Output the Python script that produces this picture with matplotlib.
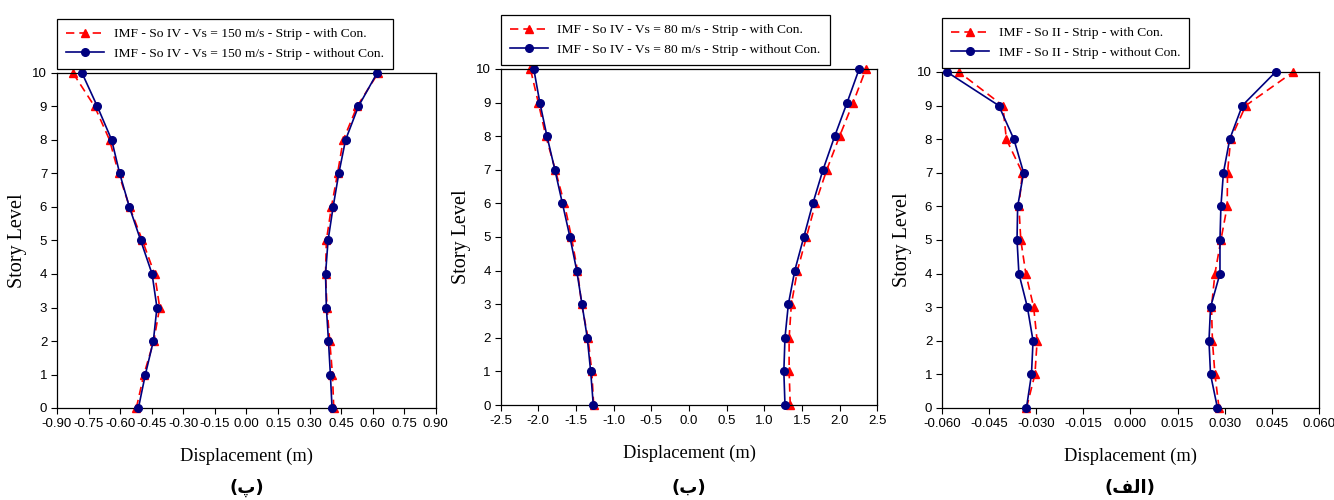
import matplotlib.pyplot as plt
from matplotlib.ticker import FormatStrFormatter

plt.rcParams['axes.unicode_minus'] = False

# story levels 0..10
levels = list(range(11))

# ---------- panel (پ): So IV, Vs = 150 m/s ----------
p1_labels = ["IMF - So IV - Vs = 150 m/s - Strip - with Con.",
             "IMF - So IV - Vs = 150 m/s - Strip - without Con."]
p1_with_left = [-0.523, -0.487, -0.440, -0.412, -0.436, -0.494, -0.555, -0.607, -0.650, -0.721, -0.824]
p1_with_right = [0.415, 0.409, 0.396, 0.383, 0.376, 0.380, 0.404, 0.433, 0.460, 0.526, 0.626]
p1_wo_left = [-0.513, -0.480, -0.442, -0.425, -0.448, -0.502, -0.556, -0.602, -0.640, -0.708, -0.781]
p1_wo_right = [0.407, 0.399, 0.390, 0.380, 0.376, 0.388, 0.412, 0.439, 0.471, 0.532, 0.621]
p1_ticks = [-0.90, -0.75, -0.60, -0.45, -0.30, -0.15, 0.00, 0.15, 0.30, 0.45, 0.60, 0.75, 0.90]

# ---------- panel (ب): So IV, Vs = 80 m/s ----------
p2_labels = ["IMF - So IV - Vs = 80 m/s - Strip - with Con.",
             "IMF - So IV - Vs = 80 m/s - Strip - without Con."]
p2_with_left = [-1.265, -1.29, -1.34, -1.425, -1.48, -1.56, -1.655, -1.775, -1.90, -2.00, -2.105]
p2_with_right = [1.345, 1.33, 1.33, 1.36, 1.44, 1.56, 1.68, 1.83, 2.00, 2.18, 2.35]
p2_wo_left = [-1.27, -1.305, -1.35, -1.42, -1.49, -1.58, -1.68, -1.78, -1.885, -1.98, -2.06]
p2_wo_right = [1.275, 1.26, 1.275, 1.32, 1.405, 1.525, 1.645, 1.78, 1.935, 2.10, 2.26]
p2_ticks = [-2.5, -2.0, -1.5, -1.0, -0.5, 0.0, 0.5, 1.0, 1.5, 2.0, 2.5]

# ---------- panel (الف): So II ----------
p3_labels = ["IMF - So II - Strip - with Con.",
             "IMF - So II - Strip - without Con."]
p3_with_left = [-0.0331, -0.0304, -0.0297, -0.0308, -0.0333, -0.0349, -0.0355, -0.0344, -0.0395, -0.0406, -0.0546]
p3_with_right = [0.0282, 0.0269, 0.0261, 0.0258, 0.0269, 0.0288, 0.0308, 0.0309, 0.0319, 0.0367, 0.0518]
p3_wo_left = [-0.0331, -0.0315, -0.0310, -0.0328, -0.0355, -0.0361, -0.0359, -0.0340, -0.0371, -0.0419, -0.0584]
p3_wo_right = [0.0277, 0.0255, 0.0250, 0.0255, 0.0285, 0.0285, 0.0288, 0.0296, 0.0316, 0.0356, 0.0462]
p3_ticks = [-0.060, -0.045, -0.030, -0.015, 0.000, 0.015, 0.030, 0.045, 0.060]

# panel captions (Arabic presentation forms so the letters join left-to-right)
captions = ["(\u067e)", "(\u0628)", "(\ufed2\ufedf\ufe8d)"]

panels = [
    (p1_labels, p1_with_left, p1_with_right, p1_wo_left, p1_wo_right, p1_ticks, '%.2f'),
    (p2_labels, p2_with_left, p2_with_right, p2_wo_left, p2_wo_right, p2_ticks, '%.1f'),
    (p3_labels, p3_with_left, p3_with_right, p3_wo_left, p3_wo_right, p3_ticks, '%.3f'),
]

# axes boxes in figure fractions [left, bottom, width, height]
boxes = [
    [0.0427, 0.184, 0.284, 0.670],
    [0.3753, 0.190, 0.2823, 0.672],
    [0.7061, 0.184, 0.2826, 0.672],
]

serif = 'Liberation Serif'
sans = 'Liberation Sans'

fig = plt.figure(figsize=(13.34, 5), dpi=100)

for i, (labels, wl, wr, ol, orr, ticks, fmt) in enumerate(panels):
    ax = fig.add_axes(boxes[i])
    red_kw = dict(color='red', linestyle='--', dashes=(5, 3), linewidth=1.2,
                  marker='^', markersize=6, zorder=2, clip_on=False)
    blue_kw = dict(color='#00007f', linestyle='-', linewidth=1.2,
                   marker='o', markersize=5.5, zorder=3, clip_on=False)
    h1, = ax.plot(wl, levels, label=labels[0], **red_kw)
    ax.plot(wr, levels, **red_kw)
    h2, = ax.plot(ol, levels, label=labels[1], **blue_kw)
    ax.plot(orr, levels, **blue_kw)

    ax.set_xlim(ticks[0], ticks[-1])
    ax.set_ylim(0, 10)
    ax.set_xticks(ticks)
    ax.set_yticks(levels)
    ax.xaxis.set_major_formatter(FormatStrFormatter(fmt))
    ax.tick_params(direction='out', length=4, width=0.8, labelsize=9.5, pad=3)
    for lab in ax.get_xticklabels() + ax.get_yticklabels():
        lab.set_fontfamily(sans)
    for sp in ax.spines.values():
        sp.set_linewidth(0.9)
    ax.set_xlabel('Displacement (m)', fontfamily=serif, fontsize=13.2, labelpad=13)
    ax.set_ylabel('Story Level', fontfamily=serif, fontsize=14.5)
    ax.yaxis.set_label_coords(-0.08, 0.5)

    leg = ax.legend(handles=[h1, h2], loc='lower left', bbox_to_anchor=(0, 1.012),
                    borderaxespad=0, fancybox=False, framealpha=1, edgecolor='black',
                    prop={'family': serif, 'size': 9.7}, handlelength=2.8,
                    handletextpad=0.7, labelspacing=0.5, borderpad=0.7)
    leg.get_frame().set_linewidth(0.9)

    # caption under the panel
    cx = boxes[i][0] + boxes[i][2] / 2
    fig.text(cx, 0.024, captions[i], ha='center', va='center', fontsize=13,
             fontweight='bold', family=['DejaVu Sans'])

fig.savefig('out.png', dpi=100)
